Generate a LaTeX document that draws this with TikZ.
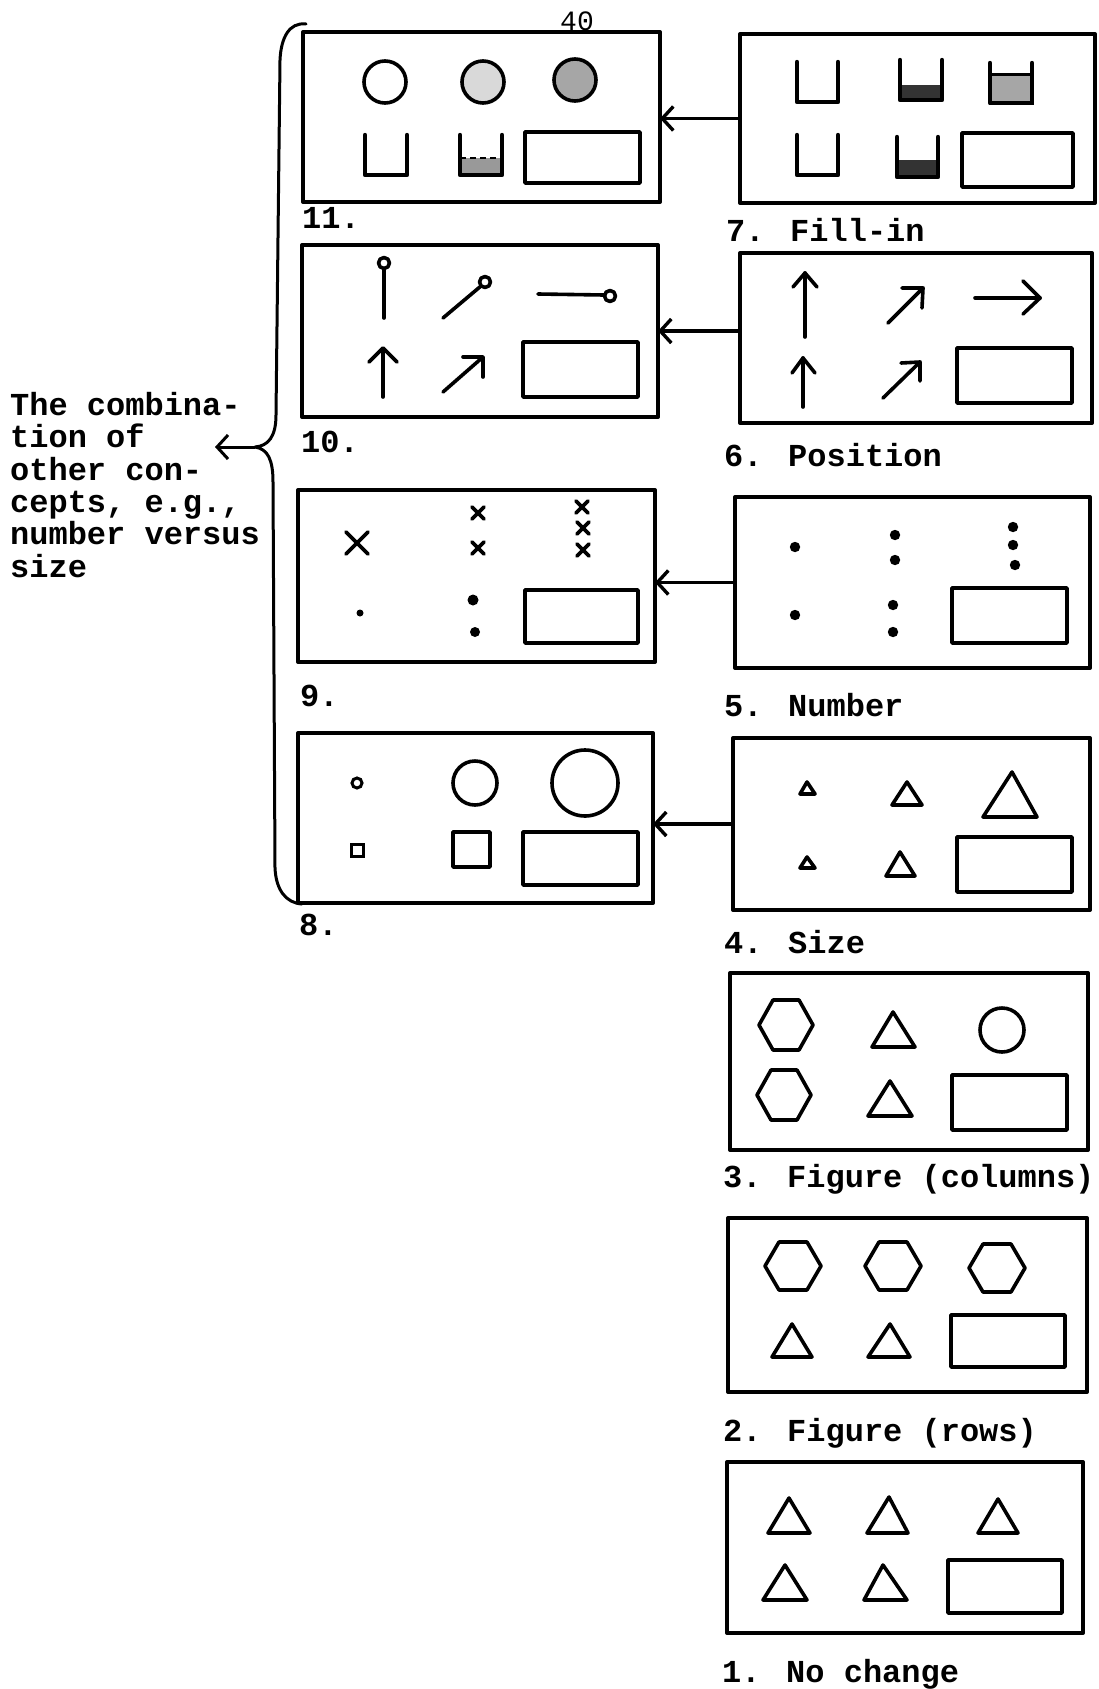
\documentclass[tikz,border=0pt]{standalone}
\usepackage{fontspec}
\newfontfamily\tw{Liberation Mono}
\usetikzlibrary{arrows.meta}
\begin{document}
\begin{tikzpicture}[x=1pt,y=-1pt,
  panel/.style={draw, line width=4pt, inner sep=0pt, outer sep=0pt, line join=round},
  fig/.style={line width=3.6pt, line join=round, line cap=round},
  cup/.style={line width=4.4pt, line join=round, line cap=round},
  ans/.style={line width=3.6pt, line join=round},
  conn/.style={line width=3.4pt, -{Straight Barb[length=11pt,width=24pt]}},
  lab/.style={anchor=base west, inner sep=0pt, font=\tw\bfseries\fontsize{32}{36}\selectfont},
]
\useasboundingbox (0,0) rectangle (1099,1689);

% page number
\node[anchor=base west, inner sep=0pt, font=\tw\fontsize{28}{30}\selectfont] (pg) at (560,30) {40};

% panels
\node[panel, minimum width=357pt, minimum height=170pt] (b11) at (481.5,117) {};
\node[panel, minimum width=355pt, minimum height=169pt] (b7)  at (917.5,118.5) {};
\node[panel, minimum width=356pt, minimum height=172pt] (b10) at (480,331) {};
\node[panel, minimum width=352pt, minimum height=170pt] (b6)  at (916,338) {};
\node[panel, minimum width=357pt, minimum height=172pt] (b9)  at (476.5,576) {};
\node[panel, minimum width=355pt, minimum height=171pt] (b5)  at (912.5,582.5) {};
\node[panel, minimum width=355pt, minimum height=170pt] (b8)  at (475.5,818) {};
\node[panel, minimum width=357pt, minimum height=172pt] (b4)  at (911.5,824) {};
\node[panel, minimum width=358pt, minimum height=177pt] (b3)  at (909,1061.5) {};
\node[panel, minimum width=359pt, minimum height=174pt] (b2)  at (907.5,1305) {};
\node[panel, minimum width=356pt, minimum height=171pt] (b1)  at (905,1547.5) {};

% connectors
\draw[conn] (b7.west) -- (b7.west -| b11.east);
\draw[conn] (b10.east -| b6.west) -- (b10.east);
\draw[conn] (b5.west) -- (b5.west -| b9.east);
\draw[conn] (b4.west) -- (b4.west -| b8.east);

% labels
\node[lab] (l11) at (302,228) {11.};
\node[lab] (l7)  at (726,241) {7. Fill-in};
\node[lab] (l10) at (301,452) {10.};
\node[lab] (l6)  at (724,466) {6. Position};
\node[lab] (l9)  at (300,706) {9.};
\node[lab] (l5)  at (724,716) {5. Number};
\node[lab] (l8)  at (299,935) {8.};
\node[lab] (l4)  at (724,953) {4. Size};
\node[lab] (l3)  at (723,1187) {3. Figure (columns)};
\node[lab] (l2)  at (723,1441) {2. Figure (rows)};
\node[lab] (l1)  at (722,1682) {1. No change};

% brace and side text
\node[anchor=north west, align=left, inner sep=0pt,
      font=\tw\bfseries\fontsize{32}{32.4}\selectfont] (combo) at (10,392)
  {The combina-\\tion of\\other con-\\cepts, e.g.,\\number versus\\size};
\draw[line width=3pt, line cap=round, line join=round]
  (306,24) .. controls (289,22) and (281,38) .. (280,60)
  -- (276,415) .. controls (276,437) and (268,446) .. (255,447) coordinate (cusp)
  .. controls (268,449) and (273,460) .. (273,482)
  -- (275,868) .. controls (276,890) and (286,903) .. (302,904);
\coordinate (tip) at (215,447);
\draw[conn, line width=3pt] (cusp) -- (tip);

% ---- box 11 ----
\draw[fig] (385,82) circle (21);
\filldraw[fig, fill=black!15] (483,82) circle (21);
\filldraw[fig, fill=black!35] (575,80) circle (21);
\draw[cup] (365,135) -- (365,175) -- (407,175) -- (407,135);
\fill[black!40] (460,158) rectangle (502,175);
\draw[line width=2.5pt, dash pattern=on 6pt off 4pt] (460,158) -- (502,158);
\draw[cup] (460,135) -- (460,175) -- (502,175) -- (502,135);
\draw[ans] (525,132) rectangle (640,183);

% ---- box 7 ----
\draw[cup] (797,62) -- (797,102) -- (838,102) -- (838,62);
\fill[black!80] (900,85) rectangle (942,100);
\draw[cup] (900,60) -- (900,100) -- (942,100) -- (942,60);
\filldraw[line width=3pt, fill=black!35] (990,74) rectangle (1032,103);
\draw[cup] (990,63) -- (990,103) -- (1032,103) -- (1032,63);
\draw[cup] (797,135) -- (797,175) -- (838,175) -- (838,135);
\fill[black!80] (897,160) rectangle (938,177);
\draw[cup] (897,137) -- (897,177) -- (938,177) -- (938,137);
\draw[ans] (962,133) rectangle (1073,187);

% ---- box 10 ----
\draw[fig] (384,318) -- (384,269);
\draw[fig] (384,263) circle (5.5);
\draw[fig] (443,318) -- (481,286);
\draw[fig] (485,282) circle (5.5);
\draw[fig] (538,294) -- (604,295);
\draw[fig] (610,296) circle (5.5);
\draw[fig] (383,397) -- (383,349);
\draw[fig] (369,362) -- (383,348) -- (397,362);
\draw[fig] (443,392) -- (483,357);
\draw[fig] (463,357) -- (483,357) -- (483,377);
\draw[ans] (523,342) rectangle (638,397);

% ---- box 6 ----
\draw[fig] (805,337) -- (805,273);
\draw[fig] (793,287) -- (805,273) -- (817,287);
\draw[fig] (888,323) -- (923,288);
\draw[fig] (902,288) -- (923,288) -- (922,308);
\draw[fig] (975,298) -- (1040,298);
\draw[fig] (1023,281) -- (1040,298) -- (1023,314);
\draw[fig] (803,407) -- (803,358);
\draw[fig] (792,373) -- (803,358) -- (815,373);
\draw[fig] (883,398) -- (920,362);
\draw[fig] (901,363) -- (920,362) -- (920,381);
\draw[ans] (957,348) rectangle (1072,403);

% ---- box 9 ----
\draw[fig] (346,532) -- (368,554) (346,554) -- (368,532);
\foreach \p in {(478,513),(478,548),(582,507),(583,528),(583,550)}
  \draw[fig, shift={\p}] (-6,-6) -- (6,6) (-6,6) -- (6,-6);
\fill (360,613) circle (3.5);
\fill (473,600) circle (5.5);
\fill (475,632) circle (5);
\draw[ans] (525,590) rectangle (638,643);

% ---- box 5 ----
\foreach \p in {(795,547),(795,615),(895,535),(895,560),(893,605),(893,632),(1013,527),(1013,545),(1015,565)}
  \fill \p circle (5.2);
\draw[ans] (952,588) rectangle (1067,643);

% ---- box 8 ----
\draw[line width=3pt] (357,783) circle (5);
\draw[fig] (475,783) circle (22);
\draw[fig] (585,783) circle (33);
\draw[line width=3pt] (351,844) rectangle (363,856);
\draw[fig] (453,832) rectangle (490,867);
\draw[ans] (523,832) rectangle (638,885);

% ---- box 4 ----
\draw[fig] (807,782) -- (800,794) -- (815,794) -- cycle;
\draw[fig] (907,782) -- (892,805) -- (922,805) -- cycle;
\draw[fig] (1012,772) -- (983,817) -- (1037,817) -- cycle;
\draw[fig] (807,857) -- (800,868) -- (815,868) -- cycle;
\draw[fig] (900,852) -- (886,876) -- (915,876) -- cycle;
\draw[ans] (957,837) rectangle (1072,892);

% ---- box 3 ----
\draw[fig, shift={(786,1025)}] (-27,0) -- (-13,-25) -- (13,-25) -- (27,0) -- (13,25) -- (-13,25) -- cycle;
\draw[fig] (893,1012) -- (872,1047) -- (915,1047) -- cycle;
\draw[fig] (1002,1030) circle (22);
\draw[fig, shift={(784,1095)}] (-27,0) -- (-13,-25) -- (13,-25) -- (27,0) -- (13,25) -- (-13,25) -- cycle;
\draw[fig] (890,1081) -- (868,1116) -- (912,1116) -- cycle;
\draw[ans] (952,1075) rectangle (1067,1130);

% ---- box 2 ----
\foreach \p in {(793,1266),(893,1266),(997,1268)}
  \draw[fig, shift={\p}] (-28,0) -- (-14,-24) -- (14,-24) -- (28,0) -- (14,24) -- (-14,24) -- cycle;
\draw[fig] (792,1324) -- (772,1357) -- (812,1357) -- cycle;
\draw[fig] (890,1324) -- (868,1357) -- (910,1357) -- cycle;
\draw[ans] (951,1315) rectangle (1065,1367);

% ---- box 1 ----
\draw[fig] (789,1498) -- (768,1533) -- (810,1533) -- cycle;
\draw[fig] (889,1497) -- (867,1533) -- (908,1533) -- cycle;
\draw[fig] (998,1499) -- (978,1533) -- (1018,1533) -- cycle;
\draw[fig] (785,1565) -- (763,1600) -- (807,1600) -- cycle;
\draw[fig] (883,1565) -- (864,1600) -- (907,1600) -- cycle;
\draw[ans] (948,1560) rectangle (1062,1613);
\end{tikzpicture}
\end{document}
